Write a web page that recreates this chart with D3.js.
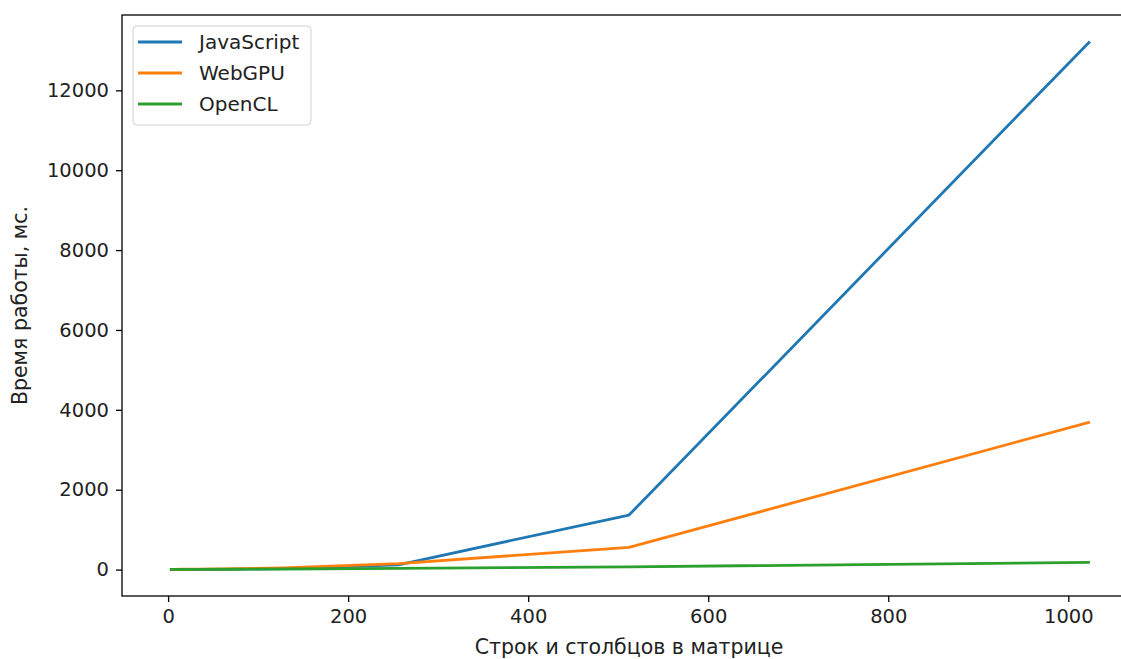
<!DOCTYPE html>
<html>
<head>
<meta charset="utf-8">
<script src="https://cdn.jsdelivr.net/npm/d3@7"></script>
<style>
  body { margin: 0; background: #fff; overflow: hidden; }
  svg { font-family: "DejaVu Sans", sans-serif; }
</style>
</head>
<body>
<div id="chart"></div>
<script>
// matrix size (rows = cols)
const sizes = [2, 4, 8, 16, 32, 64, 128, 256, 512, 1024];
const jsTimes = [0, 0, 0, 1, 2, 5, 25, 120, 1365, 13225];
const webgpuTimes = [5, 5, 6, 8, 10, 18, 45, 150, 556, 3694];
const openclTimes = [3, 3, 3, 4, 5, 8, 15, 30, 70, 180];
const seriesNames = ["JavaScript", "WebGPU", "OpenCL"];
const seriesColors = ["#1f77b4", "#ff7f0e", "#2ca02c"];
const xTicks = [0, 200, 400, 600, 800, 1000];
const yTicks = [0, 2000, 4000, 6000, 8000, 10000, 12000];

const W = 1121, H = 659;
const margin = {top: 15, right: -15, bottom: 63, left: 122};

const svg = d3.select("#chart").append("svg")
    .attr("width", W)
    .attr("height", H);

const series = [jsTimes, webgpuTimes, openclTimes].map((vals, i) => ({
  name: seriesNames[i],
  color: seriesColors[i],
  values: vals.map((v, j) => ({x: sizes[j], y: v}))
}));

// matplotlib-style 5% margins
const xPad = (d3.max(sizes) - 0) * 0.05;
const yMax = d3.max(jsTimes);
const yPad = yMax * 0.05;

const x = d3.scaleLinear()
    .domain([0 - xPad, d3.max(sizes) + xPad])
    .range([margin.left, W - margin.right]);

const y = d3.scaleLinear()
    .domain([0 - yPad, yMax + yPad])
    .range([H - margin.bottom, margin.top]);

const line = d3.line()
    .x(d => x(d.x))
    .y(d => y(d.y));

svg.append("g")
   .selectAll("path")
   .data(series)
   .join("path")
   .attr("fill", "none")
   .attr("stroke", d => d.color)
   .attr("stroke-width", 2.8)
   .attr("stroke-linejoin", "round")
   .attr("d", d => line(d.values));

// axes
const xAxis = svg.append("g")
    .attr("transform", `translate(0,${H - margin.bottom})`)
    .call(d3.axisBottom(x).tickValues(xTicks).tickSize(6).tickPadding(7).tickFormat(d3.format("d")));

const yAxis = svg.append("g")
    .attr("transform", `translate(${margin.left},0)`)
    .call(d3.axisLeft(y).tickValues(yTicks).tickSize(6).tickPadding(7).tickFormat(d3.format("d")));

[xAxis, yAxis].forEach(a => {
  a.select(".domain").remove();
  a.selectAll(".tick line").attr("stroke", "#000").attr("stroke-width", 1.3);
  a.selectAll(".tick text").attr("font-size", 19.5).attr("fill", "#222")
    .attr("font-family", "DejaVu Sans");
});

// frame
svg.append("rect")
   .attr("x", margin.left)
   .attr("y", margin.top)
   .attr("width", x.range()[1] - margin.left)
   .attr("height", H - margin.bottom - margin.top)
   .attr("fill", "none")
   .attr("stroke", "#000")
   .attr("stroke-width", 1.3);

// axis titles
svg.append("text")
   .attr("x", (margin.left + x.range()[1]) / 2)
   .attr("y", 654)
   .attr("text-anchor", "middle")
   .attr("font-size", 20.5)
   .attr("fill", "#222")
   .text("Строк и столбцов в матрице");

svg.append("text")
   .attr("transform", `translate(27,${(margin.top + H - margin.bottom) / 2}) rotate(-90)`)
   .attr("text-anchor", "middle")
   .attr("font-size", 20.5)
   .attr("fill", "#222")
   .text("Время работы, мс.");

// legend
const legend = svg.append("g").attr("transform", "translate(133,26)");
legend.append("rect")
   .attr("width", 178)
   .attr("height", 99)
   .attr("rx", 4)
   .attr("fill", "#fff")
   .attr("fill-opacity", 0.8)
   .attr("stroke", "#d0d0d0")
   .attr("stroke-width", 1);

const items = legend.selectAll("g.item")
   .data(series)
   .join("g")
   .attr("class", "item")
   .attr("transform", (d, i) => `translate(0,${16 + i * 31})`);

items.append("line")
   .attr("x1", 5).attr("x2", 49)
   .attr("stroke", d => d.color)
   .attr("stroke-width", 2.8);

items.append("text")
   .attr("x", 66)
   .attr("dy", "0.35em")
   .attr("font-size", 20)
   .attr("fill", "#222")
   .text(d => d.name);
</script>
</body>
</html>
